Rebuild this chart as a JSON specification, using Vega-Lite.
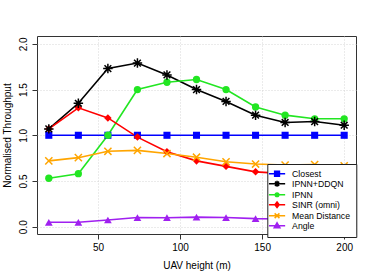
{
  "$schema": "https://vega.github.io/schema/vega-lite/v6.json",
  "autosize": "none",
  "width": 319,
  "height": 198,
  "padding": {"left": 37, "top": 36, "right": 18, "bottom": 46},
  "background": "white",
  "config": {
    "font": "Liberation Sans",
    "view": {"stroke": "#333", "strokeWidth": 1},
    "axis": {
      "labelFont": "Liberation Sans", "labelFontSize": 10, "labelColor": "black",
      "titleFont": "Liberation Sans", "titleFontSize": 10, "titleFontWeight": "normal", "titleColor": "black",
      "tickColor": "#333", "tickSize": 5, "domain": false,
      "gridColor": "#cccccc", "gridDash": [1, 2], "gridWidth": 0.8
    }
  },
  "data": {
    "values": [
      {"series": "Closest", "x": 20, "y": 1.0}, {"series": "Closest", "x": 38, "y": 1.0}, {"series": "Closest", "x": 56, "y": 1.0}, {"series": "Closest", "x": 74, "y": 1.0}, {"series": "Closest", "x": 92, "y": 1.0}, {"series": "Closest", "x": 110, "y": 1.0}, {"series": "Closest", "x": 128, "y": 1.0}, {"series": "Closest", "x": 146, "y": 1.0}, {"series": "Closest", "x": 164, "y": 1.0}, {"series": "Closest", "x": 182, "y": 1.0}, {"series": "Closest", "x": 200, "y": 1.0},
      {"series": "IPNN+DDQN", "x": 20, "y": 1.07}, {"series": "IPNN+DDQN", "x": 38, "y": 1.35}, {"series": "IPNN+DDQN", "x": 56, "y": 1.73}, {"series": "IPNN+DDQN", "x": 74, "y": 1.79}, {"series": "IPNN+DDQN", "x": 92, "y": 1.66}, {"series": "IPNN+DDQN", "x": 110, "y": 1.50}, {"series": "IPNN+DDQN", "x": 128, "y": 1.37}, {"series": "IPNN+DDQN", "x": 146, "y": 1.22}, {"series": "IPNN+DDQN", "x": 164, "y": 1.14}, {"series": "IPNN+DDQN", "x": 182, "y": 1.15}, {"series": "IPNN+DDQN", "x": 200, "y": 1.11},
      {"series": "IPNN", "x": 20, "y": 0.53}, {"series": "IPNN", "x": 38, "y": 0.58}, {"series": "IPNN", "x": 56, "y": 1.0}, {"series": "IPNN", "x": 74, "y": 1.50}, {"series": "IPNN", "x": 92, "y": 1.58}, {"series": "IPNN", "x": 110, "y": 1.61}, {"series": "IPNN", "x": 128, "y": 1.50}, {"series": "IPNN", "x": 146, "y": 1.31}, {"series": "IPNN", "x": 164, "y": 1.22}, {"series": "IPNN", "x": 182, "y": 1.18}, {"series": "IPNN", "x": 200, "y": 1.18},
      {"series": "SINR (omni)", "x": 20, "y": 1.07}, {"series": "SINR (omni)", "x": 38, "y": 1.30}, {"series": "SINR (omni)", "x": 56, "y": 1.19}, {"series": "SINR (omni)", "x": 74, "y": 0.98}, {"series": "SINR (omni)", "x": 92, "y": 0.82}, {"series": "SINR (omni)", "x": 110, "y": 0.72}, {"series": "SINR (omni)", "x": 128, "y": 0.66}, {"series": "SINR (omni)", "x": 146, "y": 0.60}, {"series": "SINR (omni)", "x": 164, "y": 0.58}, {"series": "SINR (omni)", "x": 182, "y": 0.57}, {"series": "SINR (omni)", "x": 200, "y": 0.57},
      {"series": "Mean Distance", "x": 20, "y": 0.72}, {"series": "Mean Distance", "x": 38, "y": 0.755}, {"series": "Mean Distance", "x": 56, "y": 0.825}, {"series": "Mean Distance", "x": 74, "y": 0.835}, {"series": "Mean Distance", "x": 92, "y": 0.80}, {"series": "Mean Distance", "x": 110, "y": 0.76}, {"series": "Mean Distance", "x": 128, "y": 0.71}, {"series": "Mean Distance", "x": 146, "y": 0.685}, {"series": "Mean Distance", "x": 164, "y": 0.675}, {"series": "Mean Distance", "x": 182, "y": 0.68}, {"series": "Mean Distance", "x": 200, "y": 0.665},
      {"series": "Angle", "x": 20, "y": 0.048}, {"series": "Angle", "x": 38, "y": 0.048}, {"series": "Angle", "x": 56, "y": 0.073}, {"series": "Angle", "x": 74, "y": 0.10}, {"series": "Angle", "x": 92, "y": 0.098}, {"series": "Angle", "x": 110, "y": 0.105}, {"series": "Angle", "x": 128, "y": 0.10}, {"series": "Angle", "x": 146, "y": 0.088}, {"series": "Angle", "x": 164, "y": 0.085}, {"series": "Angle", "x": 182, "y": 0.08}, {"series": "Angle", "x": 200, "y": 0.08}
    ]
  },
  "encoding": {
    "x": {"field": "x", "type": "quantitative", "scale": {"domain": [12.8, 207.2], "nice": false, "zero": false},
      "axis": {"values": [50, 100, 150, 200], "title": "UAV height (m)", "labelPadding": 3, "titlePadding": 8}},
    "y": {"field": "y", "type": "quantitative", "scale": {"domain": [-0.08, 2.086], "nice": false, "zero": false},
      "axis": {"values": [0, 0.5, 1, 1.5, 2], "format": ".1f", "title": "Normalised Throughput", "labelAngle": 270, "labelAlign": "center", "labelBaseline": "bottom", "labelPadding": 4, "titlePadding": 6}},
    "color": {"field": "series", "type": "nominal",
      "scale": {"domain": ["Closest", "IPNN+DDQN", "IPNN", "SINR (omni)", "Mean Distance", "Angle"], "range": ["#0000FF", "#000000", "#22E622", "#FF0000", "#FFA500", "#A020F0"]}}
  },
  "layer": [
    {
      "mark": {"type": "line", "strokeWidth": 1.6},
      "encoding": {
        "color": {"field": "series", "type": "nominal",
          "legend": {
            "orient": "none", "legendX": 230.3, "legendY": 128, "title": null,
            "fillColor": "white", "strokeColor": "#222", "padding": 5.4,
            "labelFont": "Liberation Sans", "labelFontSize": 8.7, "labelColor": "black",
            "symbolSize": 36, "labelOffset": 10.7, "rowPadding": -2.5,
            "encode": {"symbols": {"update": {
              "shape": {"signal": "datum.value == 'Closest' ? 'M-2.7,0L2.7,0M-0.8,-0.8H0.8V0.8H-0.8Z' : datum.value == 'IPNN+DDQN' ? 'M-2.7,0L2.7,0M-1,0L1,0M0,-1L0,1M-0.7,-0.7L0.7,0.7M-0.7,0.7L0.7,-0.7' : datum.value == 'IPNN' ? 'M-2.7,0L2.7,0M0.6,0A0.6,0.6,0,1,1,-0.6,0A0.6,0.6,0,1,1,0.6,0Z' : datum.value == 'SINR (omni)' ? 'M-2.7,0L2.7,0M0,-0.9L0.7,0L0,0.9L-0.7,0Z' : datum.value == 'Mean Distance' ? 'M-2.7,0L2.7,0M-0.8,-0.8L0.8,0.8M-0.8,0.8L0.8,-0.8' : 'M-2.7,0L2.7,0M0,-1L0.95,0.7L-0.95,0.7Z'"},
              "fill": {"scale": "color", "field": "value"},
              "stroke": {"scale": "color", "field": "value"},
              "strokeWidth": {"value": 1.5},
              "opacity": {"value": 1}
            }}}
          }}
      }
    },
    {
      "transform": [{"filter": "datum.series == 'Closest' || datum.series == 'IPNN' || datum.series == 'SINR (omni)' || datum.series == 'Angle'"}],
      "mark": {"type": "point", "filled": true, "opacity": 1},
      "encoding": {
        "shape": {"field": "series", "type": "nominal", "legend": null,
          "scale": {"domain": ["Closest", "IPNN", "SINR (omni)", "Angle"], "range": ["square", "circle", "diamond", "triangle-up"]}},
        "size": {"field": "series", "type": "nominal", "legend": null,
          "scale": {"domain": ["Closest", "IPNN", "SINR (omni)", "Angle"], "range": [50, 60, 40, 70]}},
        "color": {"field": "series", "type": "nominal", "legend": null}
      }
    },
    {
      "transform": [{"filter": "datum.series == 'IPNN+DDQN' || datum.series == 'Mean Distance'"}],
      "mark": {"type": "point", "filled": false, "opacity": 1, "strokeWidth": 1.5},
      "encoding": {
        "shape": {"field": "series", "type": "nominal", "legend": null,
          "scale": {"domain": ["IPNN+DDQN", "Mean Distance"], "range": ["M-1,0L1,0M0,-1L0,1M-0.71,-0.71L0.71,0.71M-0.71,0.71L0.71,-0.71", "M-0.8,-0.8L0.8,0.8M-0.8,0.8L0.8,-0.8"]}},
        "size": {"field": "series", "type": "nominal", "legend": null,
          "scale": {"domain": ["IPNN+DDQN", "Mean Distance"], "range": [90, 80]}},
        "color": {"field": "series", "type": "nominal", "legend": null}
      }
    }
  ],
  "resolve": {"scale": {"shape": "independent", "size": "independent"}}
}
